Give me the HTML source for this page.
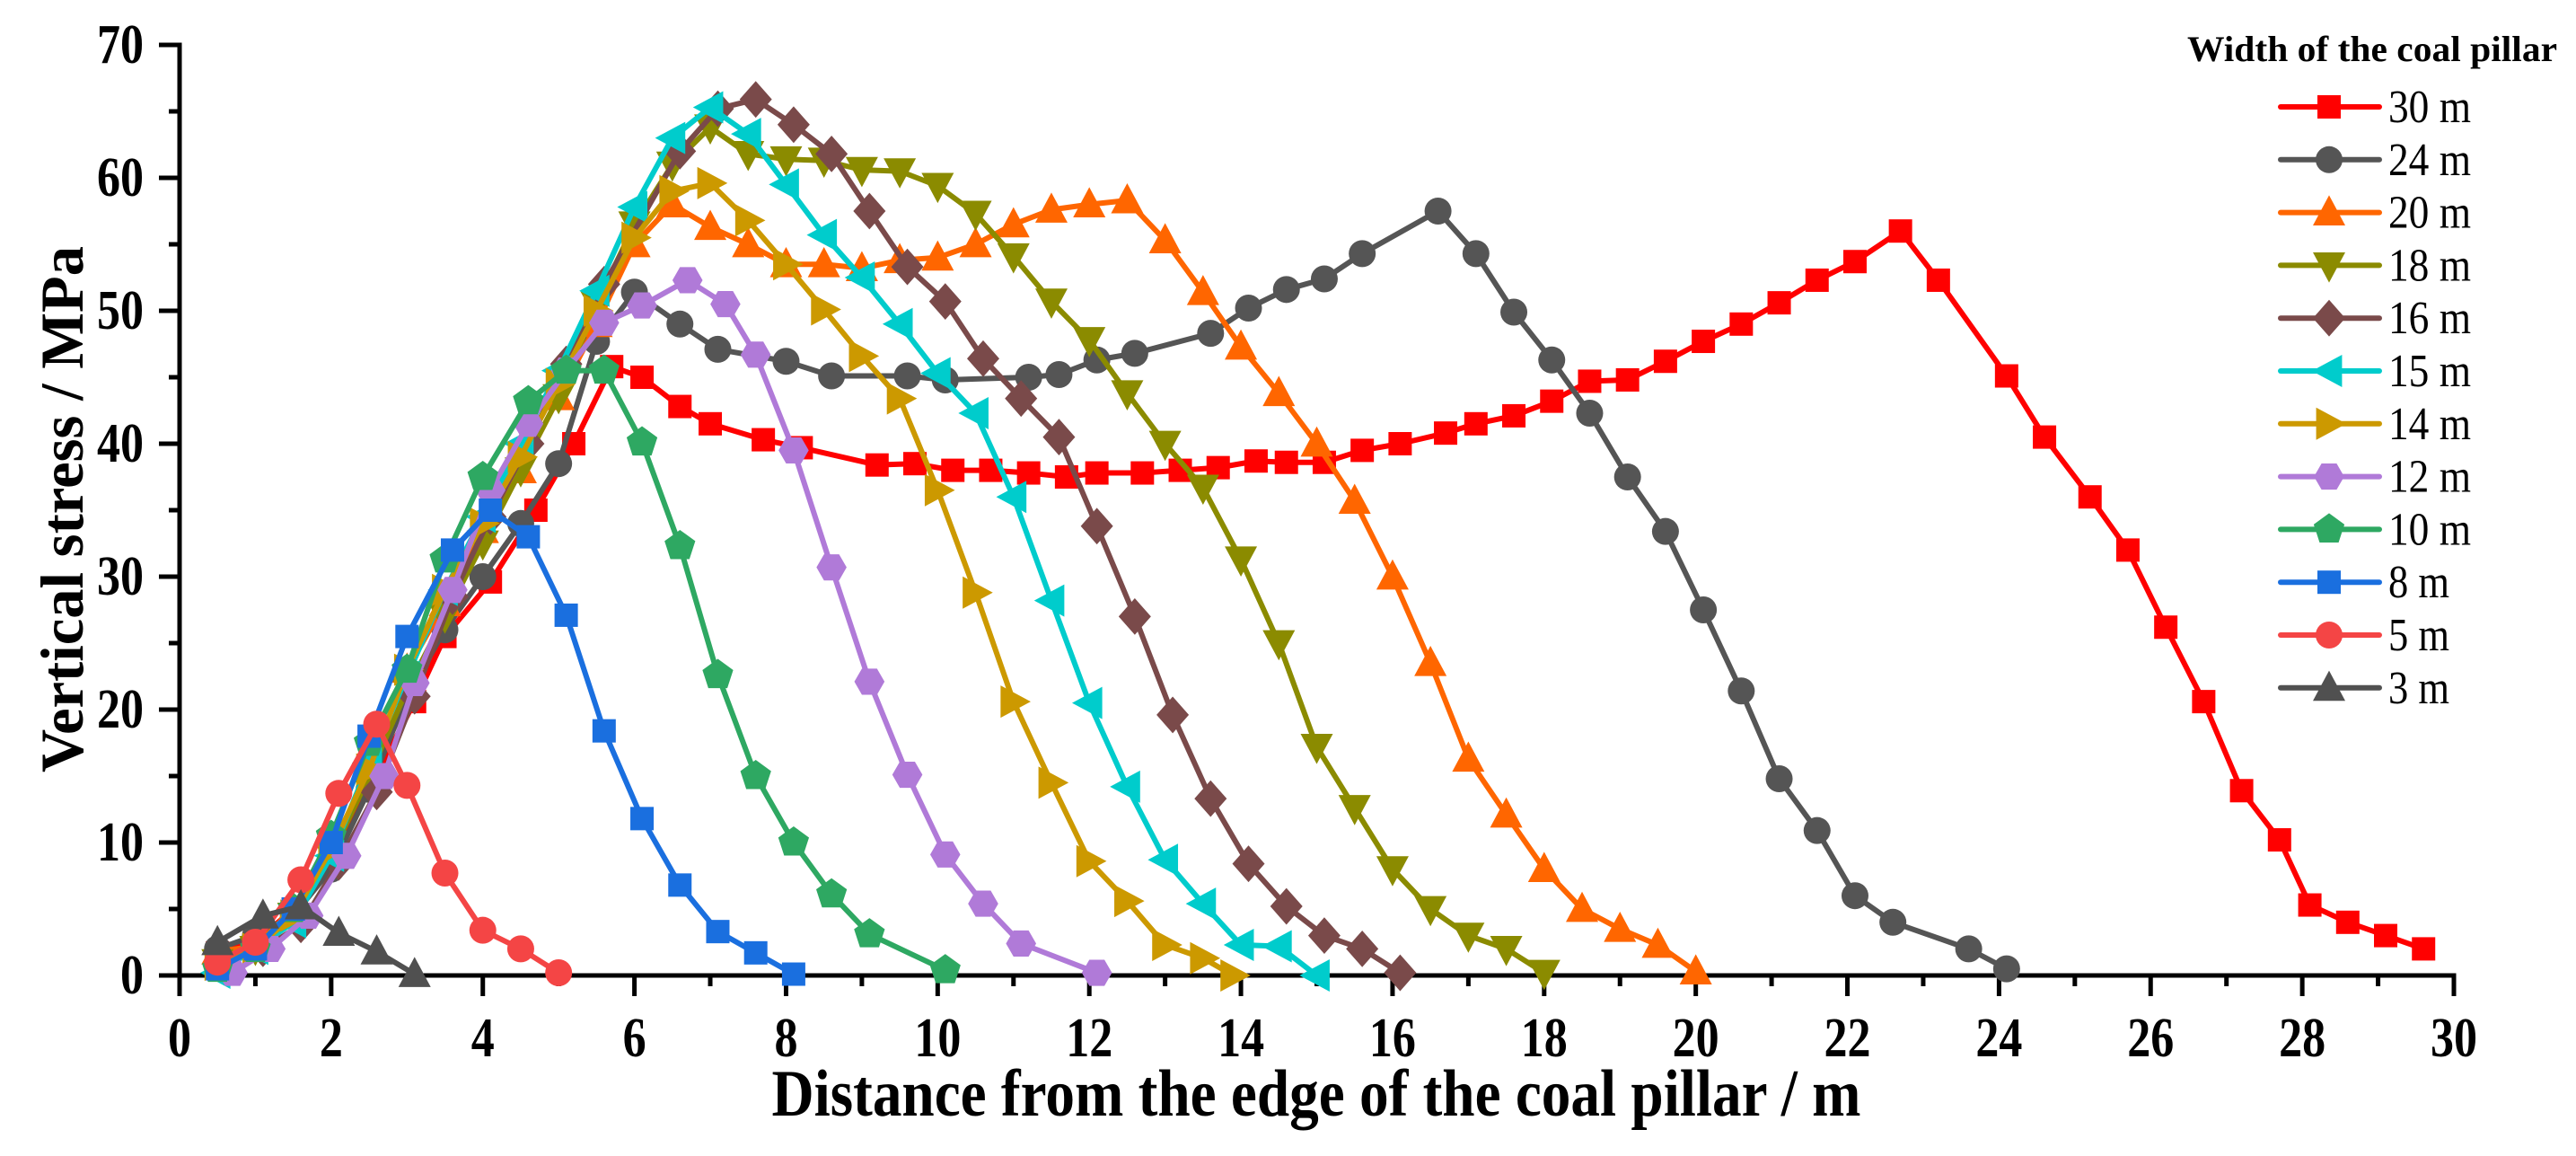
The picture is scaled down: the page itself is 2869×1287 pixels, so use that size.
<!DOCTYPE html>
<html><head><meta charset="utf-8"><title>Vertical stress vs distance</title>
<style>
html,body{margin:0;padding:0;background:#fff;}
svg{display:block;}
text{font-family:"Liberation Serif",serif;}
</style></head>
<body>
<svg id="chart" width="2869" height="1287" viewBox="0 0 2869 1287" xmlns="http://www.w3.org/2000/svg">
<g id="axes"></g>
<g id="series"></g>
<g id="legend"></g>
<text x="1466" y="1242" text-anchor="middle" font-size="74" font-weight="bold" textLength="1213" lengthAdjust="spacingAndGlyphs">Distance from the edge of the coal pillar / m</text>
<text x="0" y="0" transform="translate(92,567) rotate(-90)" text-anchor="middle" font-size="68" font-weight="bold" textLength="586" lengthAdjust="spacingAndGlyphs">Vertical stress / MPa</text>
</svg>
<script>
const seriesNames = ["30 m","24 m","20 m","18 m","16 m","15 m","14 m","12 m","10 m","8 m","5 m","3 m"];
const seriesColors = ["#ff0000","#555555","#ff6600","#8b8b00","#7a4a4a","#00cccc","#cc9900","#b07ad8","#2ea862","#1a6fdf","#f44545","#505050"];
const seriesMarkers = ["square","circle","tri-up","tri-down","diamond","tri-left","tri-right","hexagon","pentagon","square","circle","tri-up"];
const xTicks = [0,2,4,6,8,10,12,14,16,18,20,22,24,26,28,30];
const yTicks = [0,10,20,30,40,50,60,70];
const x30 = [0.5,1,1.5,2,2.5,3.1,3.5,4.1,4.7,5.2,5.7,6.1,6.6,7,7.7,8.2,9.2,9.7,10.2,10.7,11.2,11.7,12.1,12.7,13.2,13.7,14.2,14.6,15.1,15.6,16.1,16.7,17.1,17.6,18.1,18.6,19.1,19.6,20.1,20.6,21.1,21.6,22.1,22.7,23.2,24.1,24.6,25.2,25.7,26.2,26.7,27.2,27.7,28.1,28.6,29.1,29.6];
const y30 = [1.7,2.5,5,8.7,14,20.6,25.5,29.6,35,40,45.8,45,42.8,41.5,40.3,39.7,38.4,38.5,38,38,37.8,37.5,37.8,37.8,38,38.2,38.7,38.6,38.6,39.5,40,40.8,41.5,42.1,43.2,44.7,44.8,46.2,47.7,49,50.6,52.3,53.7,56,52.3,45.1,40.5,36,32,26.2,20.6,13.9,10.2,5.3,4,3,2];
const x24 = [0.5,1,1.5,2,2.5,3,3.5,4,4.5,5,5.5,6,6.6,7.1,8,8.6,9.6,10.1,11.2,11.6,12.1,12.6,13.6,14.1,14.6,15.1,15.6,16.6,17.1,17.6,18.1,18.6,19.1,19.6,20.1,20.6,21.1,21.6,22.1,22.6,23.6,24.1];
const y24 = [2,3,4.5,8,14,21,26,30,34,38.5,47.7,51.4,49,47.1,46.2,45.1,45.1,44.8,45,45.2,46.3,46.8,48.3,50.2,51.6,52.4,54.3,57.5,54.3,49.9,46.3,42.3,37.5,33.4,27.5,21.4,14.8,10.9,6,4,2,0.5];
const x20 = [0.5,1,1.5,2,2.5,3,3.5,4,4.5,5,5.5,6,6.5,7,7.5,8,8.5,9,9.5,10,10.5,11,11.5,12,12.5,13,13.5,14,14.5,15,15.5,16,16.5,17,17.5,18,18.5,19,19.5,20];
const y20 = [1.8,2.2,5,9.5,15.5,23,28,33.5,38,43.5,49,55,58,56.3,55,53.5,53.5,53.2,53.8,54,55,56.5,57.6,58,58.3,55.3,51.4,47.3,43.8,40,35.7,30,23.5,16.3,12.1,8,5,3.5,2.3,0.3];
const x18 = [0.5,1,1.5,2,2.5,3,3.5,4,4.5,5,5.5,6,6.5,7,7.5,8,8.5,9,9.5,10,10.5,11,11.5,12,12.5,13,13.5,14,14.5,15,15.5,16,16.5,17,17.5,18];
const y18 = [1,2,4.5,9,15,21.5,27,32.5,38,43.5,50.5,56.5,61,63.8,61.8,61.4,61.3,60.6,60.5,59.4,57.3,54.1,50.7,47.8,43.8,40,36.7,31.3,25,17.2,12.6,8,5,3,2,0.2];
const x16 = [0.6,1.1,1.6,2.1,2.6,3.1,3.6,4.1,4.6,5.1,5.6,6.6,7.1,7.6,8.1,8.6,9.1,9.6,10.1,10.6,11.1,11.6,12.1,12.6,13.1,13.6,14.1,14.6,15.1,15.6,16.1];
const y16 = [1,2,3.8,8.5,13.8,21,28.5,34.5,40,46,52,62,65.2,65.9,64,61.8,57.5,53.3,50.7,46.4,43.4,40.5,33.8,27,19.6,13.3,8.4,5.2,3,2,0.2];
const x15 = [0.5,1,1.5,2,2.5,3,3.5,4,4.5,5,5.5,6,6.5,7,7.5,8,8.5,9,9.5,10,10.5,11,11.5,12,12.5,13,13.5,14,14.5,15];
const y15 = [0.2,2,4,9,16,22.5,29,34.5,40,45.5,51.5,57.8,63,65.3,63.3,59.5,55.7,52.5,49,45.3,42.3,36,28.2,20.5,14.2,8.7,5.4,2.3,2.2,0];
const x14 = [0.5,1,1.5,2,2.5,3,3.5,4,4.5,5,5.5,6,6.5,7,7.5,8,8.5,9,9.5,10,10.5,11,11.5,12,12.5,13,13.5,13.9];
const y14 = [0.8,2,4.5,9.5,15.5,23,29,34,39,44.5,50,55.5,59,59.6,56.8,53.5,50.1,46.6,43.4,36.5,28.8,20.6,14.5,8.6,5.6,2.3,1.3,0];
const x12 = [0.7,1.2,1.7,2.2,2.7,3.1,3.6,4.1,4.6,5.1,5.6,6.1,6.7,7.2,7.6,8.1,8.6,9.1,9.6,10.1,10.6,11.1,12.1];
const y12 = [0.2,2,4.5,9,15,22,29,36.5,41.5,45.5,49.1,50.4,52.3,50.5,46.7,39.5,30.7,22.1,15.1,9.1,5.4,2.4,0.2];
const x10 = [0.5,1,1.5,2,2.5,3,3.5,4,4.6,5.1,5.6,6.1,6.6,7.1,7.6,8.1,8.6,9.1,10.1];
const y10 = [0.5,2,5,10.5,17.5,23,31.3,37.5,43.2,45.5,45.5,40.1,32.3,22.6,15,10,6.1,3.1,0.4];
const x8 = [0.5,1,1.5,2,2.5,3,3.6,4.1,4.6,5.1,5.6,6.1,6.6,7.1,7.6,8.1];
const y8 = [0.5,2,5,10,18,25.5,32,35,33,27.1,18.4,11.8,6.8,3.3,1.7,0.1];
const x5 = [0.5,1,1.6,2.1,2.6,3,3.5,4,4.5,5];
const y5 = [1,2.5,7.2,13.7,18.9,14.3,7.7,3.4,2,0.2];
const x3 = [0.5,1.1,1.6,2.1,2.6,3.1];
const y3 = [2.5,4.5,5.2,3.2,1.8,0.1];
const seriesX = [x30,x24,x20,x18,x16,x15,x14,x12,x10,x8,x5,x3];
const seriesY = [y30,y24,y20,y18,y16,y15,y14,y12,y10,y8,y5,y3];

const NS = "http://www.w3.org/2000/svg";
const X0 = 200, X1 = 2733, Y0 = 1086, Y1 = 50;
const xMin = 0, xMax = 30, yMin = 0, yMax = 70;
function sx(v){ return X0 + (v - xMin) / (xMax - xMin) * (X1 - X0); }
function sy(v){ return Y0 - (v - yMin) / (yMax - yMin) * (Y0 - Y1); }
function mk(tag, attrs, parent){ const e = document.createElementNS(NS, tag); for (const k in attrs) e.setAttribute(k, attrs[k]); parent.appendChild(e); return e; }

const axes = document.getElementById('axes');
const xAxis = mk('line', {x1: X0 - 2.5, y1: Y0, x2: X1 + 2.5, y2: Y0, stroke: '#000', 'stroke-width': 5}, axes);


const yAxis = mk('line', {x1: X0, y1: Y0 + 2.5, x2: X0, y2: Y1 - 2.5, stroke: '#000', 'stroke-width': 5}, axes);


for (let v = xMin; v <= xMax; v += 1) {
  const major = v % 2 === 0;
  const t = mk('line', {x1: sx(v), y1: Y0, x2: sx(v), y2: Y0 + (major ? 23 : 12), stroke: '#000', 'stroke-width': 5}, axes);
  
  
}
xTicks.forEach(v => {
  const s = String(v);
  const t = mk('text', {x: sx(v), y: Y0 + 90, 'text-anchor': 'middle', 'font-size': 62, 'font-weight': 'bold', textLength: 26 * s.length, lengthAdjust: 'spacingAndGlyphs'}, axes);
  t.textContent = s;
  
  
});
for (let v = yMin; v <= yMax; v += 5) {
  const major = v % 10 === 0;
  const t = mk('line', {x1: X0, y1: sy(v), x2: X0 - (major ? 23 : 12), y2: sy(v), stroke: '#000', 'stroke-width': 5}, axes);
  
  
}
yTicks.forEach(v => {
  const s = String(v);
  const t = mk('text', {x: 160, y: sy(v) + 20, 'text-anchor': 'end', 'font-size': 62, 'font-weight': 'bold', textLength: 26 * s.length, lengthAdjust: 'spacingAndGlyphs'}, axes);
  t.textContent = s;
  
  
});

function marker(kind, cx, cy, color, parent){
  const k = 1.2;
  let e;
  if (kind === 'square') e = mk('rect', {x: cx - 13, y: cy - 13, width: 26, height: 26, fill: color}, parent);
  else if (kind === 'circle') e = mk('circle', {cx: cx, cy: cy, r: 15, fill: color}, parent);
  else {
    let pts;
    if (kind === 'tri-up') pts = [[0,-16],[15,12],[-15,12]];
    else if (kind === 'tri-down') pts = [[0,16],[15,-12],[-15,-12]];
    else if (kind === 'tri-left') pts = [[-16,0],[12,-15],[12,15]];
    else if (kind === 'tri-right') pts = [[16,0],[-12,-15],[-12,15]];
    else if (kind === 'diamond') pts = [[0,-17],[15,0],[0,17],[-15,0]];
    else if (kind === 'hexagon') { pts = []; for (let i = 0; i < 6; i++){ const a = Math.PI/3*i; pts.push([14*Math.cos(a), 14*Math.sin(a)]); } }
    else { pts = []; for (let i = 0; i < 5; i++){ const a = -Math.PI/2 + 2*Math.PI/5*i; pts.push([15*Math.cos(a), 15*Math.sin(a)]); } }
    e = mk('polygon', {points: pts.map(p => (cx + k*p[0]) + ',' + (cy + k*p[1])).join(' '), fill: color}, parent);
  }
  return e;
}

const seriesG = document.getElementById('series');
seriesNames.forEach((name, i) => {
  const g = mk('g', {}, seriesG);
  
  
  const xs = seriesX[i], ys = seriesY[i];
  const pl = mk('polyline', {points: xs.map((x, j) => sx(x) + ',' + sy(ys[j])).join(' '), fill: 'none', stroke: seriesColors[i], 'stroke-width': 6, 'stroke-linejoin': 'round'}, g);
  
  
  xs.forEach((x, j) => {
    const m = marker(seriesMarkers[i], sx(x), sy(ys[j]), seriesColors[i], g);
    
    
  });
});

const legend = document.getElementById('legend');
const lt = mk('text', {x: 2642, y: 68, 'text-anchor': 'middle', 'font-size': 40, 'font-weight': 'bold', textLength: 412, lengthAdjust: 'spacingAndGlyphs'}, legend);
lt.textContent = 'Width of the coal pillar';


seriesNames.forEach((name, i) => {
  const cy = 119 + i * 58.8;
  const g = mk('g', {}, legend);
  
  
  mk('line', {x1: 2540, y1: cy, x2: 2650, y2: cy, stroke: seriesColors[i], 'stroke-width': 6, 'stroke-linecap': 'round'}, g);
  marker(seriesMarkers[i], 2594, cy, seriesColors[i], g);
  const len = name.length === 4 ? 92 : 68;
  const t = mk('text', {x: 2660, y: cy + 17, 'font-size': 52, textLength: len, lengthAdjust: 'spacingAndGlyphs'}, g);
  t.textContent = name;
});
</script>
</body></html>
